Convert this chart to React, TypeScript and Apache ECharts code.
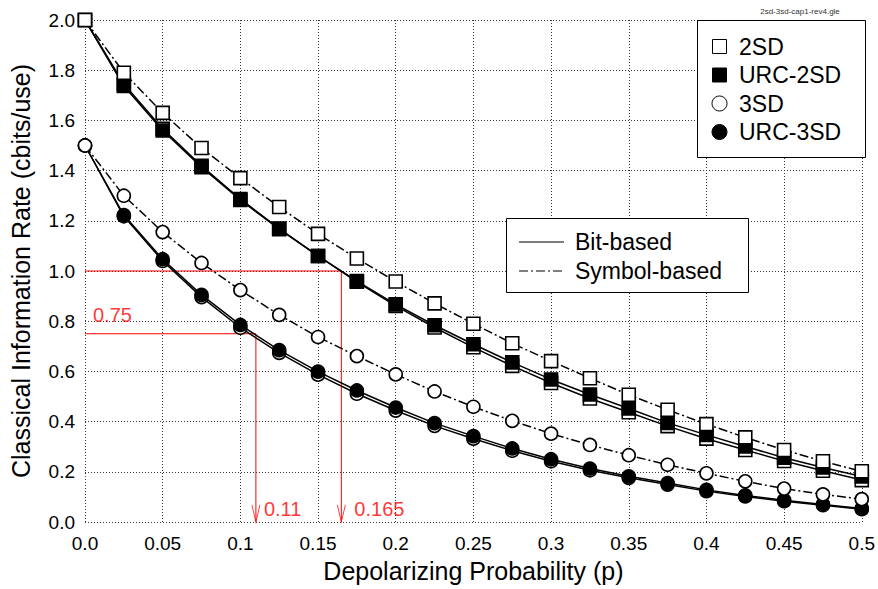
import React, { useEffect, useRef } from "react";
import * as echarts from "echarts";

const pValues = [0, 0.025, 0.05, 0.075, 0.1, 0.125, 0.15, 0.175, 0.2, 0.225, 0.25, 0.275, 0.3, 0.325, 0.35, 0.375, 0.4, 0.425, 0.45, 0.475, 0.5];

const sym2SD = [2.0, 1.79, 1.63, 1.49, 1.37, 1.255, 1.148, 1.05, 0.958, 0.871, 0.79, 0.712, 0.641, 0.573, 0.507, 0.447, 0.39, 0.337, 0.287, 0.242, 0.202];
const urc2SD = [2.0, 1.737, 1.56, 1.414, 1.283, 1.167, 1.06, 0.96, 0.867, 0.784, 0.708, 0.636, 0.568, 0.508, 0.452, 0.395, 0.347, 0.301, 0.256, 0.217, 0.181];
const bit2SD = [2.0, 1.745, 1.567, 1.419, 1.287, 1.169, 1.06, 0.957, 0.861, 0.775, 0.696, 0.622, 0.554, 0.492, 0.437, 0.382, 0.332, 0.287, 0.243, 0.204, 0.167];

const sym3SD = [1.5, 1.3, 1.155, 1.032, 0.924, 0.825, 0.737, 0.661, 0.588, 0.52, 0.459, 0.403, 0.352, 0.307, 0.266, 0.228, 0.194, 0.162, 0.133, 0.11, 0.091];
const urc3SD = [1.5, 1.223, 1.047, 0.905, 0.785, 0.685, 0.599, 0.524, 0.456, 0.394, 0.342, 0.293, 0.25, 0.213, 0.182, 0.155, 0.128, 0.106, 0.087, 0.07, 0.054];
const bit3SD = [1.5, 1.218, 1.04, 0.896, 0.774, 0.674, 0.587, 0.511, 0.444, 0.383, 0.332, 0.284, 0.242, 0.206, 0.176, 0.149, 0.123, 0.102, 0.083, 0.067, 0.051];

// annotation values
const rate2SD = 1.0;
const p2SD = 0.165;
const rate3SD = 0.75;
const p3SD = 0.11;

const legendSystems = ["2SD", "URC-2SD", "3SD", "URC-3SD"];
const legendStyles = ["Bit-based", "Symbol-based"];

const FONT = "'Liberation Sans', Arial, Helvetica, sans-serif";
const DASHDOT = [9, 3, 2, 3];

function curve(name: string, values: number[], symbol: string, filled: boolean, dashed: boolean, z: number) {
  return {
    type: "line",
    name,
    data: pValues.map((p, i) => [p, values[i]]),
    symbol,
    symbolSize: 13,
    showAllSymbol: true,
    silent: true,
    z,
    itemStyle: { color: filled ? "#000" : "#fff", borderColor: "#000", borderWidth: 1.6 },
    lineStyle: { color: "#000", width: 1.5, type: dashed ? DASHDOT : "solid" },
    emphasis: { disabled: true },
  };
}

export default function App() {
  const ref = useRef<HTMLDivElement>(null);
  useEffect(() => {
    const chart = echarts.init(ref.current!, null, { renderer: "svg" });
    const legendX = 697;
    const legendY = 20;
    const rowY = [46.5, 75, 103.5, 132];
    const legendGraphics: any[] = [
      {
        type: "rect",
        shape: { x: legendX + 0.5, y: legendY + 0.5, width: 168, height: 137 },
        style: { fill: "#fff", stroke: "#000", lineWidth: 1 },
        z: 100,
      },
    ];
    legendSystems.forEach((name, i) => {
      const filled = name.startsWith("URC");
      const square = name.indexOf("2SD") >= 0;
      if (square) {
        legendGraphics.push({
          type: "rect",
          shape: { x: 712.5, y: rowY[i] - 7, width: 14, height: 14 },
          style: { fill: filled ? "#000" : "#fff", stroke: "#000", lineWidth: 1 },
          z: 101,
        });
      } else {
        legendGraphics.push({
          type: "circle",
          shape: { cx: 719.5, cy: rowY[i], r: 7.5 },
          style: { fill: filled ? "#000" : "#fff", stroke: "#000", lineWidth: 1 },
          z: 101,
        });
      }
      legendGraphics.push({
        type: "text",
        x: 739,
        y: rowY[i],
        style: {
          text: name,
          fontSize: 23,
          fontFamily: FONT,
          fill: "#000",
          align: "left",
          verticalAlign: "middle",
          textAlign: "left",
          textVerticalAlign: "middle",
        },
        z: 101,
      });
    });
    // line style legend
    legendGraphics.push({
      type: "rect",
      shape: { x: 506.5, y: 218.5, width: 242, height: 74 },
      style: { fill: "#fff", stroke: "#000", lineWidth: 1 },
      z: 100,
    });
    const styleRows = [242, 271];
    legendStyles.forEach((name, i) => {
      legendGraphics.push({
        type: "line",
        shape: { x1: 519, y1: styleRows[i], x2: 564, y2: styleRows[i] },
        style: { stroke: "#555", lineWidth: 1.5, lineDash: i === 0 ? null : DASHDOT },
        z: 101,
      });
      legendGraphics.push({
        type: "text",
        x: 575,
        y: styleRows[i],
        style: {
          text: name,
          fontSize: 23,
          fontFamily: FONT,
          fill: "#000",
          align: "left",
          verticalAlign: "middle",
          textAlign: "left",
          textVerticalAlign: "middle",
        },
        z: 101,
      });
    });
    legendGraphics.push({
      type: "text",
      x: 800,
      y: 11,
      style: {
        text: "2sd-3sd-cap1-rev4.gle",
        fontSize: 8,
        fontFamily: FONT,
        fill: "#333",
        align: "center",
        verticalAlign: "middle",
        textAlign: "center",
        textVerticalAlign: "middle",
      },
      z: 101,
    });

    const red = "#ff0000";
    const option: any = {
      animation: false,
      backgroundColor: "#fff",
      textStyle: { fontFamily: FONT },
      grid: { left: 85, right: 13, top: 20, bottom: 67, containLabel: false },
      xAxis: {
        type: "value",
        min: 0,
        max: 0.5,
        interval: 0.05,
        name: "Depolarizing Probability (p)",
        nameLocation: "middle",
        nameGap: 36,
        nameTextStyle: { fontSize: 25, color: "#000", fontFamily: FONT },
        axisLine: { show: false },
        axisTick: { show: false },
        axisLabel: {
          fontSize: 19,
          color: "#000",
          fontFamily: FONT,
          margin: 12,
          formatter: (v: number) => (v === 0 ? "0.0" : String(+v.toFixed(3))),
        },
        splitLine: { show: true, lineStyle: { color: "#333", width: 1, type: [1, 2] } },
      },
      yAxis: {
        type: "value",
        min: 0,
        max: 2,
        interval: 0.2,
        name: "Classical Information Rate (cbits/use)",
        nameLocation: "middle",
        nameGap: 52,
        nameTextStyle: { fontSize: 25, color: "#000", fontFamily: FONT },
        axisLine: { show: false },
        axisTick: { show: false },
        axisLabel: {
          fontSize: 19,
          color: "#000",
          fontFamily: FONT,
          margin: 10,
          formatter: (v: number) => v.toFixed(1),
        },
        splitLine: { show: true, lineStyle: { color: "#333", width: 1, type: [1, 2] } },
      },
      graphic: legendGraphics,
      series: [
        {
          type: "line",
          name: "ann2SD",
          data: [[0, rate2SD], [p2SD, rate2SD], [p2SD, 0]],
          symbol: "none",
          silent: true,
          z: 1,
          lineStyle: { color: red, width: 1 },
        },
        {
          type: "line",
          name: "ann3SD",
          data: [[0, rate3SD], [p3SD, rate3SD], [p3SD, 0]],
          symbol: "none",
          silent: true,
          z: 1,
          lineStyle: { color: red, width: 1 },
        },
        {
          type: "scatter",
          name: "arrows",
          data: [[p3SD, 0], [p2SD, 0]],
          symbol: "path://M0,0L4,17L8,0",
          symbolSize: [8, 17],
          symbolOffset: [0, -8.5],
          silent: true,
          z: 1,
          itemStyle: { color: "rgba(0,0,0,0)", borderColor: red, borderWidth: 1.2 },
        },
        {
          type: "scatter",
          name: "annLabels",
          symbolSize: 0,
          silent: true,
          z: 1,
          label: { show: true, position: "right", distance: 0, color: red, fontSize: 20, fontFamily: FONT },
          data: [
            { value: [p3SD, 0], label: { formatter: String(p3SD), offset: [8, -13] } },
            { value: [p2SD, 0], label: { formatter: String(p2SD), offset: [13, -13] } },
            { value: [0, rate3SD], label: { formatter: rate3SD.toFixed(2), offset: [8, -19] } },
          ],
        },
        curve("2SD bit-based", bit2SD, "rect", false, false, 3),
        curve("URC-2SD", urc2SD, "rect", true, false, 4),
        curve("2SD symbol-based", sym2SD, "rect", false, true, 5),
        curve("3SD bit-based", bit3SD, "circle", false, false, 3),
        curve("URC-3SD", urc3SD, "circle", true, false, 4),
        curve("3SD symbol-based", sym3SD, "circle", false, true, 5),
      ],
    };
    chart.setOption(option);
    return () => chart.dispose();
  }, []);
  return <div ref={ref} style={{ position: "fixed", left: 0, top: 0, width: 878, height: 589 }} />;
}
